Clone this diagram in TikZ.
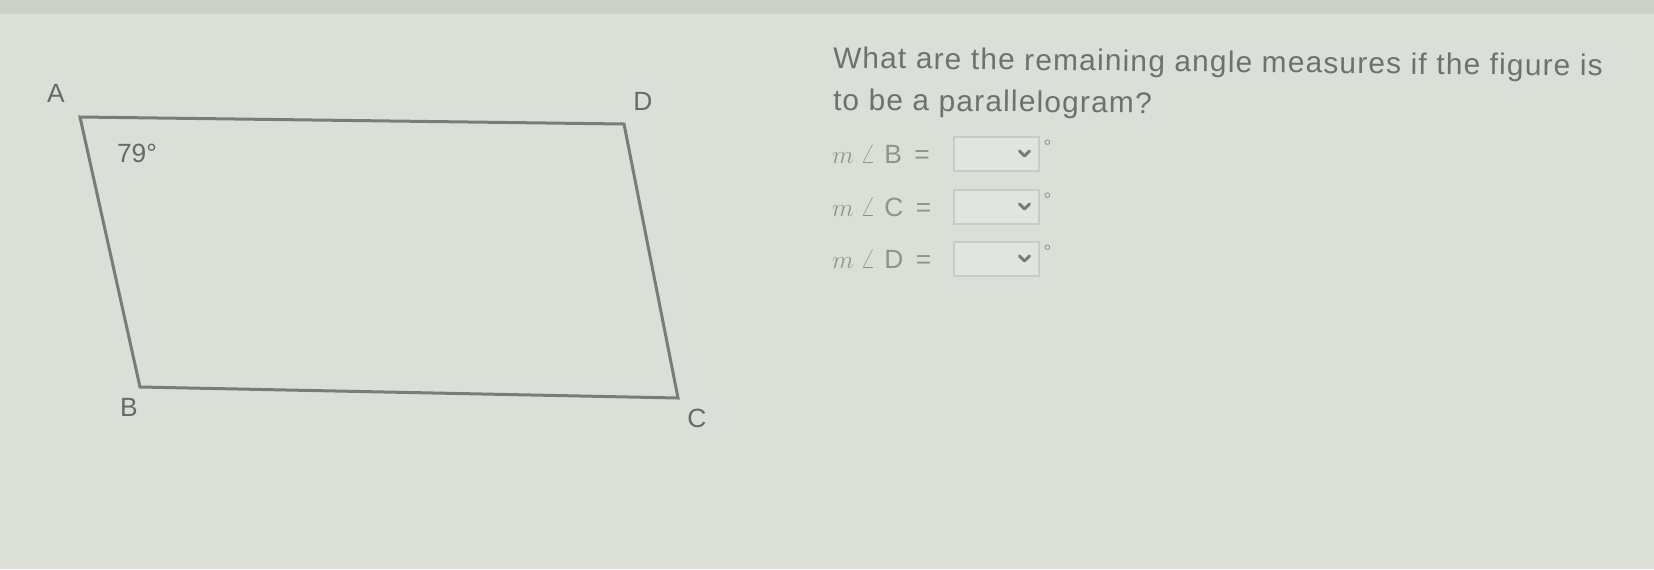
\documentclass[tikz,border=0pt]{standalone}
\usepackage{fontspec}
\setmainfont{Liberation Sans}
\newfontfamily\askfont[LetterSpace=4.0]{Liberation Sans}
\newlength{\du}
\setlength{\du}{0.02cm}
\definecolor{paper}{rgb}{0.858824, 0.874510, 0.843137}
\definecolor{bezel}{rgb}{0.800000, 0.815686, 0.788235}
\definecolor{dialinecolor}{rgb}{0.478431, 0.490196, 0.466667}
\definecolor{labelcolor}{rgb}{0.400000, 0.419608, 0.396078}
\definecolor{textcolor}{rgb}{0.427451, 0.447059, 0.423529}
\definecolor{mathcolor}{rgb}{0.560784, 0.576471, 0.549020}
\definecolor{boxline}{rgb}{0.784314, 0.800000, 0.772549}
\definecolor{boxfill}{rgb}{0.886275, 0.898039, 0.874510}

\begin{document}
\begin{tikzpicture}[even odd rule,
  vtxlabel/.style={anchor=center,inner sep=0pt,outer sep=0pt,color=labelcolor,font=\fontsize{15}{18}\selectfont},
  asktext/.style={anchor=base west,inner sep=0pt,outer sep=0pt,color=textcolor,rotate=-0.6,font=\askfont\fontsize{17}{20}\selectfont},
  angtext/.style={anchor=west,inner sep=0pt,outer sep=0pt,color=mathcolor,font=\fontsize{15}{18}\selectfont},
  dropbox/.style={draw=boxline,fill=boxfill,line width=1.5\du,minimum width=85\du,minimum height=34\du,inner sep=0pt,anchor=west},
  chevron/.style={draw=dialinecolor,line width=3\du,line cap=round,line join=round},
  degmark/.style={anchor=west,inner sep=0pt,outer sep=0pt,color=mathcolor,font=\fontsize{11}{12}\selectfont}]
\pgftransformxscale{1.000000}
\pgftransformyscale{-1.000000}
\useasboundingbox (0\du,0\du) rectangle (1654\du,569\du);
\fill[paper] (0\du,0\du) rectangle (1654\du,569\du);
\fill[bezel] (0\du,0\du) rectangle (1654\du,14\du);
% figure
\pgfsetlinewidth{3.000000\du}
\pgfsetmiterjoin
\pgfsetstrokecolor{dialinecolor}
\coordinate (pA) at (80.000000\du,117.000000\du);
\coordinate (pD) at (624.000000\du,124.000000\du);
\coordinate (pC) at (678.000000\du,398.000000\du);
\coordinate (pB) at (140.000000\du,387.000000\du);
\draw[dialinecolor] (pA)--(pD)--(pC)--(pB)--cycle;
\node[vtxlabel] (lA) at (56.000000\du,93.000000\du){A};
\node[vtxlabel] (lD) at (643.000000\du,101.000000\du){D};
\node[vtxlabel] (lB) at (129.000000\du,407.000000\du){B};
\node[vtxlabel] (lC) at (697.000000\du,418.000000\du){C};
\node[vtxlabel,anchor=west] (ang) at (117.000000\du,153.000000\du){79°};
% question
\node[asktext] (ask1) at (833.000000\du,68.000000\du){What are the remaining angle measures if the figure is};
\node[asktext] (ask2) at (833.000000\du,110.000000\du){to be a parallelogram?};
% answers
\foreach \lbl/\yy in {B/154, C/207, D/259}{
  \node[angtext] (m\lbl) at (832\du,\yy\du){$m$\hspace{4pt}$\angle$\hspace{5pt}\lbl\hspace{7pt}=};
  \node[dropbox] (box\lbl) at (953\du,\yy\du){};
  \draw[chevron] ([xshift=-20\du,yshift=-3\du]box\lbl.east) -- ([xshift=-15\du,yshift=2\du]box\lbl.east) -- ([xshift=-10\du,yshift=-3\du]box\lbl.east);
  \node[degmark] (deg\lbl) at ([xshift=4\du,yshift=-7\du]box\lbl.east){°};
}
\end{tikzpicture}
\end{document}
